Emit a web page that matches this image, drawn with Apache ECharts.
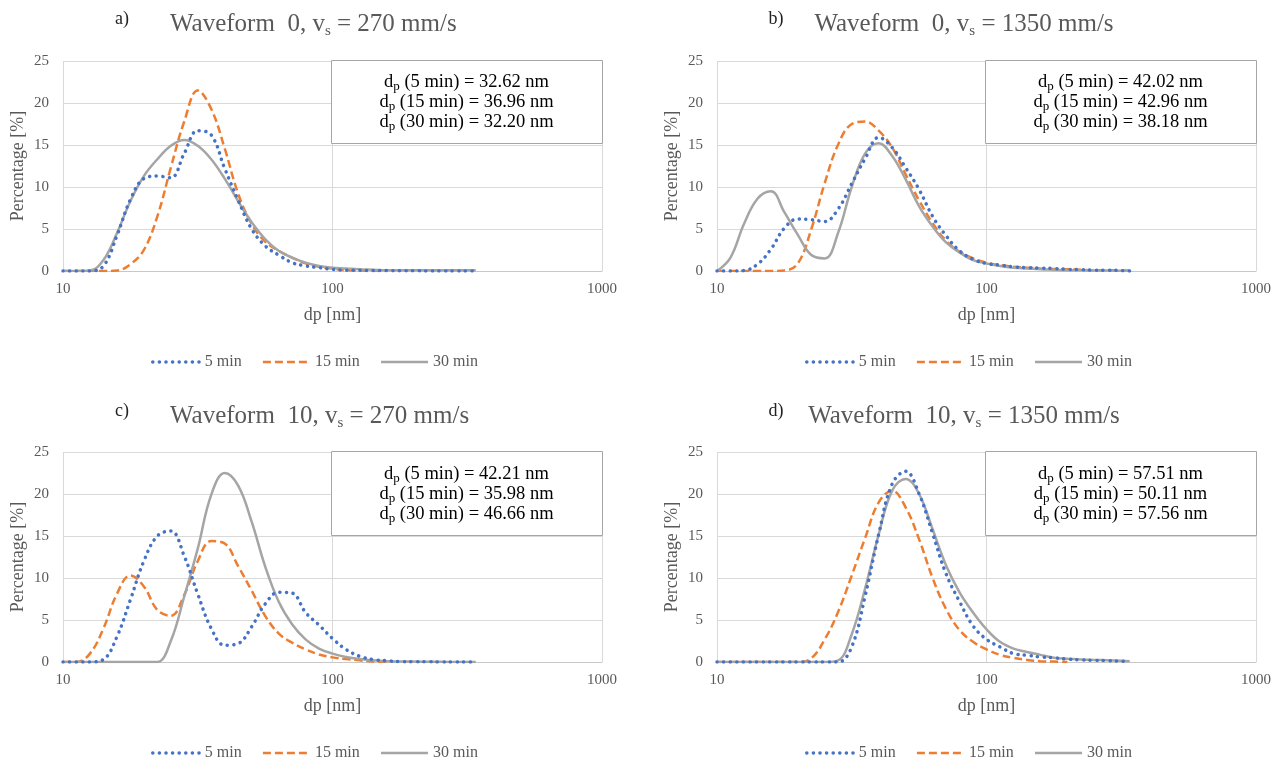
<!DOCTYPE html>
<html><head><meta charset="utf-8">
<script src="https://cdn.jsdelivr.net/npm/echarts@6/dist/echarts.min.js"></script>
<style>html,body{margin:0;padding:0;background:#fff}#c{width:1284px;height:765px}</style>
</head><body><div id="c"></div>
<script>
// ---------- data ----------
const dp = [10, 11.22, 12.59, 14.13, 15.85, 17.78, 19.95, 22.39, 25.12, 28.18, 31.62, 35.48, 39.81, 44.67, 50.12, 56.23, 63.10, 70.79, 79.43, 89.13, 100, 112.2, 125.9, 141.3, 158.5, 177.8, 199.5, 223.9, 251.2, 281.8, 316.2, 340];
const seriesNames = ['5 min', '15 min', '30 min'];
const panelLetters = ['a)', 'b)', 'c)', 'd)'];
const waveforms = ['0', '0', '10', '10'];
const speeds = ['270', '1350', '270', '1350'];
const xTicks = [10, 100, 1000];
const meanDpA = ['32.62', '36.96', '32.20'];
const meanDpB = ['42.02', '42.96', '38.18'];
const meanDpC = ['42.21', '35.98', '46.66'];
const meanDpD = ['57.51', '50.11', '57.56'];

const a5  = [0,0,0,0.6,4.2,8.5,11.0,11.3,11.1,14.0,16.7,16.2,12.2,8.4,5.0,3.0,1.9,1.0,0.6,0.4,0.2,0.1,0.1,0.05,0.05,0.03,0.02,0.01,0,0,0,0];
const a15 = [0,0,0,0,0.05,0.8,2.5,6.5,12.3,17.8,21.5,19.3,14.6,9.2,5.6,3.5,2.4,1.6,0.9,0.5,0.3,0.1,0.05,0,0];
const a30 = [0,0,0.05,1.3,4.5,8.3,11.3,13.3,14.9,15.6,14.9,13.3,11.0,8.3,5.8,3.8,2.4,1.6,1.0,0.6,0.4,0.3,0.2,0.15,0.1,0.1,0.1,0.1,0.1,0.1,0.1,0.1];

const b5  = [0,0,0.05,0.8,2.6,5.1,6.2,6.1,5.9,7.4,10.4,13.4,15.9,14.7,12.3,9.7,6.5,4.2,2.4,1.4,0.9,0.7,0.5,0.4,0.35,0.3,0.2,0.15,0.1,0.1,0.05,0];
const b15 = [0,0,0,0,0,0.05,0.9,5.0,10.5,15.1,17.5,17.8,16.7,14.7,11.5,8.4,5.7,3.6,2.3,1.5,1.0,0.7,0.5,0.4,0.3,0.25,0.2,0.15,0.1,0.1,0.05,0.05];
const b30 = [0,1.6,5.6,8.6,9.5,7.0,4.3,1.9,1.5,4.6,10.0,14.0,15.2,13.7,10.9,7.7,5.3,3.4,2.2,1.3,0.9,0.6,0.4,0.3,0.2,0.15,0.1,0.1,0.05,0.05,0.03,0.02];

const c5  = [0,0,0,0.3,3.0,7.4,12.0,15.0,15.6,12.6,8.1,4.0,2.0,2.2,4.2,6.9,8.3,8.2,5.9,4.4,2.8,1.5,0.7,0.3,0.15,0.05,0.03,0.02,0.01,0,0,0];
const c15 = [0,0,1.0,4.0,8.1,10.3,9.0,6.2,5.5,8.0,12.0,14.4,14.1,11.4,8.5,5.5,3.4,2.3,1.5,0.9,0.55,0.35,0.2,0.05,0];
const c30 = [0,0,0,0,0,0,0,0,2.5,7.8,13.5,19.9,22.5,21.0,16.7,11.4,7.2,4.5,2.7,1.6,1.0,0.6,0.35,0.2,0.1,0.05,0.05,0.03,0.02,0.01,0.01,0];

const d5  = [0,0,0,0,0,0,0,0,0,0,1.8,7.9,15.2,21.2,22.7,20.0,15.3,10.5,7.2,4.3,2.7,1.8,1.0,0.8,0.6,0.5,0.35,0.25,0.2,0.15,0.1,0.05];
const d15 = [0,0,0,0,0,0,0,0.45,2.7,6.0,10.3,14.8,19.0,20.4,18.4,14.6,10.0,6.3,3.8,2.4,1.5,0.85,0.5,0.25,0.1,0.05,0];
const d30 = [0,0,0,0,0,0,0,0,0,0.2,3.3,8.8,15.2,20.4,21.8,20.0,15.8,11.5,8.3,5.9,3.9,2.4,1.6,1.2,0.85,0.5,0.4,0.3,0.25,0.2,0.15,0.1];

const panelValues = [[a5, a15, a30], [b5, b15, b30], [c5, c15, c30], [d5, d15, d30]];
const panelMeans = [meanDpA, meanDpB, meanDpC, meanDpD];

// ---------- layout & style ----------
const FONT = '"Liberation Serif", "Times New Roman", serif';
const GRAY_TXT = '#595959';
const layout = [
  {left: 63, top: 61, legendLeft: 151, legendTop: 354, titleX: 170, titleAlign: 'left', titleY: 24, letterX: 122, letterY: 19},
  {left: 717, top: 61, legendLeft: 805, legendTop: 354, titleX: 964, titleAlign: 'center', titleY: 24, letterX: 776, letterY: 19},
  {left: 63, top: 452, legendLeft: 151, legendTop: 745, titleX: 170, titleAlign: 'left', titleY: 416, letterX: 122, letterY: 411},
  {left: 717, top: 452, legendLeft: 805, legendTop: 745, titleX: 964, titleAlign: 'center', titleY: 416, letterX: 776, letterY: 411}
];
const PW = 539, PH = 210;
const styles = [
  {color: '#4472C4', lineStyle: {color: '#4472C4', width: 3.5, type: [0.1, 6.5], cap: 'round'}, z: 4},
  {color: '#ED7D31', lineStyle: {color: '#ED7D31', width: 2.5, type: [8, 4], cap: 'butt'}, z: 2},
  {color: '#A5A5A5', lineStyle: {color: '#A5A5A5', width: 2.5, type: 'solid'}, z: 3}
];

const grid = [], xAxis = [], yAxis = [], series = [], legend = [], graphic = [];
layout.forEach((L, p) => {
  grid.push({left: L.left, top: L.top, width: PW, height: PH});
  xAxis.push({
    type: 'log', logBase: 10, min: xTicks[0], max: xTicks[xTicks.length - 1], gridIndex: p,
    name: 'dp [nm]', nameLocation: 'middle', nameGap: 35,
    nameTextStyle: {fontSize: 18, color: GRAY_TXT, fontFamily: FONT},
    axisLabel: {fontSize: 15, color: GRAY_TXT, fontFamily: FONT, margin: 11, formatter: v => String(Math.round(v))},
    axisTick: {show: false},
    axisLine: {show: true, lineStyle: {color: '#C8C8C8', width: 1}},
    splitLine: {show: true, lineStyle: {color: '#D9D9D9', width: 1}},
    minorSplitLine: {show: false}
  });
  yAxis.push({
    type: 'value', min: 0, max: 25, interval: 5, gridIndex: p,
    name: 'Percentage [%]', nameLocation: 'middle', nameGap: 36, nameRotate: 90,
    nameTextStyle: {fontSize: 18, color: GRAY_TXT, fontFamily: FONT},
    axisLabel: {fontSize: 15, color: GRAY_TXT, fontFamily: FONT, margin: 14},
    axisTick: {show: false},
    axisLine: {show: false},
    splitLine: {show: true, lineStyle: {color: '#D9D9D9', width: 1}}
  });
  panelValues[p].forEach((vals, s) => {
    series.push({
      type: 'line', name: seriesNames[s], xAxisIndex: p, yAxisIndex: p,
      data: vals.map((v, i) => [dp[i], v]),
      smooth: 0.4, symbol: 'none', showSymbol: false,
      color: styles[s].color, lineStyle: styles[s].lineStyle, z: styles[s].z,
      emphasis: {disabled: true}
    });
  });
  legend.push({
    data: seriesNames.map((n, s) => ({name: n, lineStyle: Object.assign({}, styles[s].lineStyle)})),
    left: L.legendLeft, top: L.legendTop,
    itemWidth: 47, itemHeight: 12, itemGap: 20, padding: 0,
    itemStyle: {opacity: 0, borderWidth: 0},
    textStyle: {fontSize: 16, color: GRAY_TXT, fontFamily: FONT}
  });
  // panel letter
  graphic.push({type: 'text', z: 10, x: L.letterX, y: L.letterY,
    style: {text: panelLetters[p], fontSize: 18, fontFamily: FONT, fill: '#222', align: 'center', verticalAlign: 'middle'}});
  // title
  graphic.push({type: 'text', z: 10, x: L.titleX, y: L.titleY,
    style: {
      text: '{t|Waveform  ' + waveforms[p] + ', v}{s|s}{t| = ' + speeds[p] + ' mm/s}',
      align: L.titleAlign, verticalAlign: 'middle',
      rich: {
        t: {fontSize: 25, fontFamily: FONT, fill: GRAY_TXT, lineHeight: 30, verticalAlign: 'middle'},
        s: {fontSize: 15, fontFamily: FONT, fill: GRAY_TXT, lineHeight: 30, verticalAlign: 'bottom'}
      }
    }});
  // annotation box
  const bx = L.left + PW - 271, by = L.top - 1, bh = (p < 2 ? 83 : 84);
  graphic.push({type: 'rect', z: 10, shape: {x: bx + 0.5, y: by + 0.5, width: 271, height: bh},
    style: {fill: '#fff', stroke: '#A6A6A6', lineWidth: 1}});
  const lines = seriesNames.map((n, s) => '{t|d}{s|p}{t| (' + n + ') = ' + panelMeans[p][s] + ' nm}').join('\n');
  graphic.push({type: 'text', z: 11, x: bx + 135.5, y: by + bh / 2 + 1,
    style: {
      text: lines, align: 'center', verticalAlign: 'middle',
      rich: {
        t: {fontSize: 18.5, fontFamily: FONT, fill: '#000', lineHeight: 20, verticalAlign: 'middle'},
        s: {fontSize: 13, fontFamily: FONT, fill: '#000', lineHeight: 20, verticalAlign: 'bottom', padding: [0, 0, -1, 0]}
      }
    }});
});

const chart = echarts.init(document.getElementById('c'), null, {renderer: 'canvas'});
chart.setOption({animation: false, backgroundColor: '#fff', grid, xAxis, yAxis, series, legend, graphic});
</script>
</body></html>
